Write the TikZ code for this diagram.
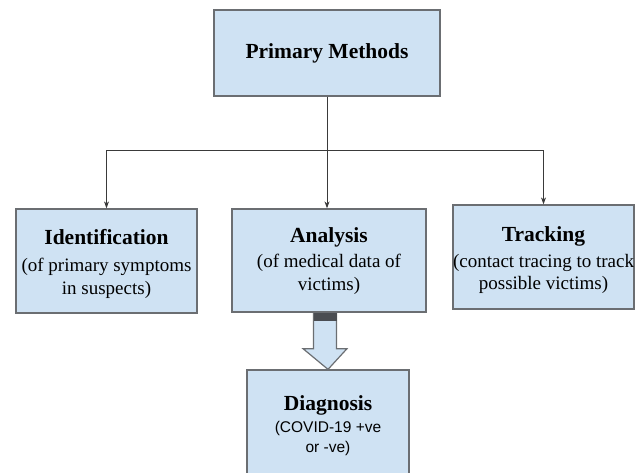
\documentclass[tikz,border=0pt]{standalone}
\usepackage{fontspec}
\setmainfont{Liberation Serif}
\setsansfont{Liberation Sans}
\usetikzlibrary{arrows.meta,calc}
\definecolor{boxfill}{HTML}{CFE2F3}
\definecolor{boxline}{HTML}{6B6E72}
\definecolor{conn}{HTML}{3A3A3A}
\definecolor{band}{HTML}{4A4D52}
\tikzset{
  box/.style={draw=boxline, line width=1.3pt, fill=boxfill, align=center, inner sep=0pt},
  conn/.style={draw=conn, line width=0.9pt, -{Stealth[length=7pt,width=5pt]}},
}
\newcommand{\ttlfont}{\fontsize{21.5}{27}\selectfont\rmfamily\bfseries}
\newcommand{\subfont}{\fontsize{19}{23}\selectfont}
\newcommand{\subfontb}{\fontsize{19}{22}\selectfont}
\newcommand{\dsubfont}{\fontsize{15.5}{20}\selectfont\sffamily}
\begin{document}
\begin{tikzpicture}[x=1pt,y=-1pt]
\useasboundingbox (0,0) rectangle (644,472);
\node[box, minimum width=226pt, minimum height=86pt] (prim) at (327,53)
  {\ttlfont Primary Methods};
\node[box, font=\subfont, minimum width=181pt, minimum height=104pt] (ident) at (106.5,261)
  {{\ttlfont\rule{0pt}{21pt}Identification}\\[4pt](of primary symptoms\\in suspects)};
\node[box, font=\subfont, minimum width=194pt, minimum height=103pt] (ana) at (329,260.5)
  {{\ttlfont\rule{0pt}{17pt}Analysis}\\[2pt](of medical data of\\victims)};
\node[box, font=\subfontb, minimum width=181pt, minimum height=104pt] (trk) at (543.5,257)
  {{\ttlfont\rule{0pt}{22pt}Tracking}\\[4pt](contact tracing to track\\possible victims)};
\node[box, font=\dsubfont, minimum width=162pt, minimum height=112pt] (diag) at (328,426)
  {{\ttlfont Diagnosis}\\[2pt](COVID-19 +ve\\or -ve)};
\coordinate (bus) at (327,150);
% connectors
\draw[conn] (prim.south) -- (prim.south |- ana.north);
\draw[draw=conn, line width=0.9pt] (ident.north |- bus) -- (trk.north |- bus);
\draw[conn] (ident.north |- bus) -- (ident.north);
\draw[conn] (trk.north |- bus) -- (trk.north);
% block arrow from analysis to diagnosis
\coordinate (ba) at ($(ana.south)+(-4,0)$);
\filldraw[fill=boxfill, draw=boxline, line width=1.2pt]
  ($(ba)+(-11.5,0)$) -- ($(ba)+(-11.5,36)$) -- ($(ba)+(-22,36)$) -- (diag.north)
  -- ($(ba)+(22,36)$) -- ($(ba)+(11.5,36)$) -- ($(ba)+(11.5,0)$) -- cycle;
\fill[band] ($(ba)+(-11.5,0)$) rectangle ($(ba)+(11.5,8)$);
\end{tikzpicture}
\end{document}
